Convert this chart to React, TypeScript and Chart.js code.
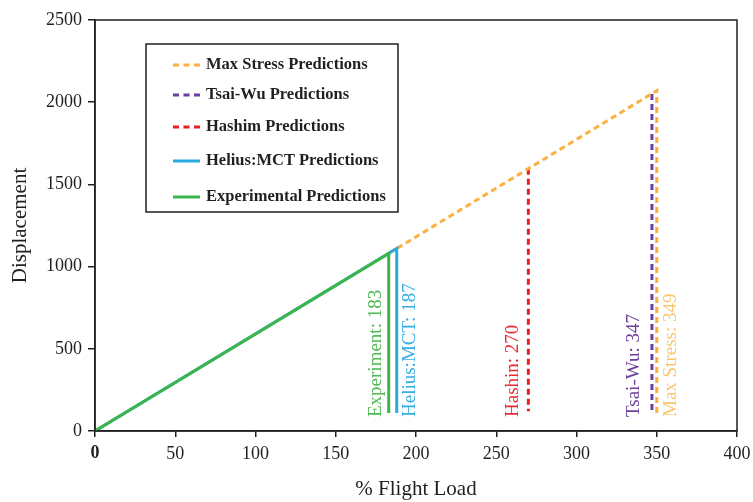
import { useEffect, useRef } from "react";
import { Chart, registerables } from "chart.js";

Chart.register(...registerables);

// ---------- data ----------
const xTickValues = [0, 50, 100, 150, 200, 250, 300, 350, 400];
const yTickValues = [0, 500, 1000, 1500, 2000, 2500];

const seriesNames = [
  "Max Stress Predictions",
  "Tsai-Wu Predictions",
  "Hashim Predictions",
  "Helius:MCT Predictions",
  "Experimental Predictions",
];

const maxStressX = [183, 350, 350];
const maxStressY = [1080, 2070, 110];

const tsaiWuX = [347, 347];
const tsaiWuY = [2050, 115];

const hashimX = [270, 270];
const hashimY = [1595, 120];

const heliusX = [0, 188, 188];
const heliusY = [0, 1110, 110];

const experimentX = [0, 183, 183];
const experimentY = [0, 1080, 110];

const failureLabels = [
  "Max Stress: 349",
  "Tsai-Wu: 347",
  "Hashin: 270",
  "Helius:MCT: 187",
  "Experiment: 183",
];
const failureLoads = [350, 347, 270, 188, 183];

// ---------- styles ----------
const FONT = "'Liberation Serif', 'DejaVu Serif', serif";
const lineColors = ["#fbb040", "#6b3fa0", "#ed1c24", "#29abe2", "#3cb54a"];
const textColors = ["#fcc66c", "#6e409b", "#ee2a30", "#35aee3", "#4fb952"];
const dashedSeries = [true, true, true, false, false];
const drawOrder = [2, 3, 4, 1, 0];
const labelOffsets = [14, -18, -15, 13, -13];
const legendRowY = [65, 95, 127, 161, 197];

const toPoints = (xs: number[], ys: number[]) => xs.map((x, i) => ({ x, y: ys[i] }));

const seriesX = [maxStressX, tsaiWuX, hashimX, heliusX, experimentX];
const seriesY = [maxStressY, tsaiWuY, hashimY, heliusY, experimentY];

const framePlugin = {
  id: "frame",
  afterDatasetsDraw(chart: any) {
    const { ctx, chartArea, scales } = chart;
    ctx.save();
    ctx.font = `19px ${FONT}`;
    ctx.textAlign = "left";
    ctx.textBaseline = "middle";
    failureLabels.forEach((t, i) => {
      const x = scales.x.getPixelForValue(failureLoads[i]) + labelOffsets[i];
      const y = chartArea.bottom - 14;
      ctx.save();
      ctx.translate(x, y);
      ctx.rotate(-Math.PI / 2);
      ctx.fillStyle = textColors[i];
      ctx.fillText(t, 0, 0);
      ctx.restore();
    });
    ctx.restore();
  },
  afterDraw(chart: any) {
    const { ctx, chartArea } = chart;
    ctx.save();
    ctx.strokeStyle = "#231f20";
    ctx.lineWidth = 1.5;
    ctx.strokeRect(chartArea.left, chartArea.top, chartArea.right - chartArea.left, chartArea.bottom - chartArea.top);

    const bx = 146, by = 44, bw = 252, bh = 168;
    ctx.fillStyle = "#ffffff";
    ctx.fillRect(bx, by, bw, bh);
    ctx.lineWidth = 1.5;
    ctx.strokeRect(bx, by, bw, bh);
    seriesNames.forEach((name, i) => {
      const y = legendRowY[i];
      ctx.beginPath();
      ctx.strokeStyle = lineColors[i];
      ctx.lineWidth = 3;
      ctx.setLineDash(dashedSeries[i] ? [6, 4.5] : []);
      ctx.moveTo(173, y);
      ctx.lineTo(200, y);
      ctx.stroke();
      ctx.setLineDash([]);
      ctx.fillStyle = "#231f20";
      ctx.font = `bold 16.5px ${FONT}`;
      ctx.textAlign = "left";
      ctx.textBaseline = "middle";
      ctx.fillText(name, 206, y);
    });
    ctx.restore();
  },
};

export default function App() {
  const canvasRef = useRef<HTMLCanvasElement | null>(null);

  useEffect(() => {
    if (!canvasRef.current) return;
    const chart = new Chart(canvasRef.current, {
      type: "scatter",
      data: {
        datasets: seriesNames.map((name, i) => ({
          label: name,
          data: toPoints(seriesX[i], seriesY[i]),
          showLine: true,
          borderColor: lineColors[i],
          backgroundColor: lineColors[i],
          borderWidth: 3,
          borderDash: dashedSeries[i] ? [6, 4] : [],
          borderCapStyle: "butt",
          pointRadius: 0,
          pointHoverRadius: 0,
          order: drawOrder[i],
          tension: 0,
        })),
      },
      options: {
        animation: false,
        responsive: true,
        maintainAspectRatio: false,
        layout: { padding: { top: 20, right: 16, left: 0, bottom: 0 } },
        plugins: {
          legend: { display: false },
          tooltip: { enabled: false },
        },
        scales: {
          x: {
            type: "linear",
            min: 0,
            max: 400,
            afterBuildTicks: (scale: any) => {
              scale.ticks = xTickValues.map((v) => ({ value: v }));
            },
            afterFit: (scale: any) => {
              scale.height = 71;
              scale.paddingRight = 0;
              scale.paddingLeft = 0;
            },
            grid: {
              display: true,
              drawOnChartArea: false,
              drawTicks: true,
              tickLength: 6,
              color: "#231f20",
              lineWidth: 1.5,
            },
            border: { display: true, color: "#231f20", width: 1.5 },
            ticks: {
              padding: 6,
              color: "#231f20",
              maxRotation: 0,
              autoSkip: false,
              callback: (v: any) => String(v),
              font: (ctx: any) => ({
                family: FONT,
                size: 18,
                weight: ctx.tick && ctx.tick.value === 0 ? "bold" : "normal",
              }),
            },
            title: {
              display: true,
              text: "% Flight Load",
              color: "#231f20",
              font: { family: FONT, size: 21 },
              padding: { top: 0, bottom: 0 },
            },
          },
          y: {
            type: "linear",
            min: 0,
            max: 2500,
            afterBuildTicks: (scale: any) => {
              scale.ticks = yTickValues.map((v) => ({ value: v }));
            },
            afterFit: (scale: any) => {
              scale.width = 95;
              scale.paddingTop = 0;
              scale.paddingBottom = 0;
            },
            grid: {
              display: true,
              drawOnChartArea: false,
              drawTicks: true,
              tickLength: 7,
              color: "#231f20",
              lineWidth: 1.5,
            },
            border: { display: true, color: "#231f20", width: 1.5 },
            ticks: {
              padding: 6,
              color: "#231f20",
              autoSkip: false,
              callback: (v: any) => String(v),
              font: { family: FONT, size: 18 },
            },
            title: {
              display: true,
              text: "Displacement",
              color: "#231f20",
              font: { family: FONT, size: 21 },
              padding: { top: 8, bottom: 0 },
            },
          },
        },
      },
      plugins: [framePlugin],
    } as any);
    return () => chart.destroy();
  }, []);

  return (
    <div style={{ position: "absolute", left: 0, top: 0, width: 753, height: 502, background: "#ffffff" }}>
      <canvas ref={canvasRef} />
    </div>
  );
}
